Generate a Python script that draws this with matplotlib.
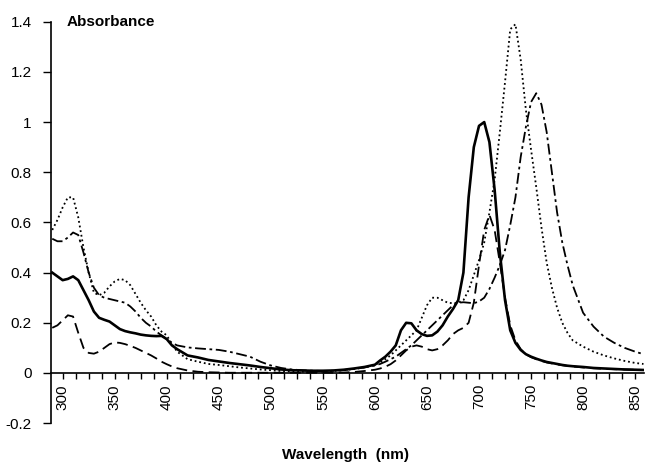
import numpy as np
import matplotlib
matplotlib.use("Agg")
import matplotlib.pyplot as plt
from matplotlib.ticker import MultipleLocator, FuncFormatter

plt.rcParams['font.family'] = ['Liberation Sans', 'DejaVu Sans']
plt.rcParams['font.size'] = 11

# wavelength grid (nm)
wavelength = [290, 295, 300, 305, 310, 315, 320, 325, 330, 335, 340, 345, 350, 355,
              360, 365, 370, 375, 380, 385, 390, 395, 400, 405, 410,
              420, 430, 440, 450, 460, 470, 480, 490, 500, 510, 520, 530, 540,
              550, 560, 570, 580, 590, 600,
              605, 610, 615, 620, 625, 630, 635, 640, 645, 650, 655, 660, 665,
              670, 675, 680, 685, 690, 695, 700, 705, 710, 715, 720, 725, 730,
              735, 740, 745, 750, 755, 760, 765, 770, 775, 780, 785, 790,
              800, 810, 820, 830, 840, 850, 858]

# absorbance, solid curve
abs_solid = [0.40, 0.385, 0.37, 0.375, 0.385, 0.37, 0.33, 0.29, 0.245, 0.22, 0.212, 0.205, 0.19, 0.175,
             0.167, 0.162, 0.158, 0.153, 0.15, 0.148, 0.147, 0.148, 0.135, 0.11, 0.095,
             0.07, 0.062, 0.052, 0.046, 0.04, 0.035, 0.03, 0.024, 0.019, 0.014, 0.011, 0.01, 0.009,
             0.009, 0.01, 0.013, 0.018, 0.024, 0.033,
             0.05, 0.065, 0.085, 0.11, 0.17, 0.2, 0.198, 0.17, 0.155, 0.148, 0.15, 0.165, 0.19,
             0.225, 0.255, 0.29, 0.4, 0.7, 0.9, 0.985, 1.0, 0.92, 0.73, 0.48, 0.29, 0.17,
             0.12, 0.092, 0.075, 0.065, 0.057, 0.05, 0.044, 0.04, 0.036, 0.032, 0.029, 0.027,
             0.024, 0.02, 0.018, 0.016, 0.014, 0.013, 0.012]

# absorbance, dotted curve
abs_dotted = [0.57, 0.61, 0.66, 0.70, 0.70, 0.62, 0.50, 0.40, 0.32, 0.31, 0.32, 0.345, 0.365, 0.375,
              0.37, 0.35, 0.315, 0.28, 0.25, 0.225, 0.19, 0.165, 0.15, 0.115, 0.085,
              0.055, 0.045, 0.036, 0.032, 0.027, 0.022, 0.018, 0.014, 0.011, 0.008, 0.006, 0.005, 0.005,
              0.006, 0.008, 0.011, 0.016, 0.023, 0.033,
              0.042, 0.055, 0.07, 0.09, 0.11, 0.13, 0.15, 0.17, 0.22, 0.27, 0.30, 0.30, 0.29,
              0.28, 0.278, 0.28, 0.29, 0.33, 0.39, 0.45, 0.52, 0.64, 0.77, 0.96, 1.16, 1.37,
              1.39, 1.25, 1.05, 0.89, 0.74, 0.58, 0.44, 0.34, 0.26, 0.20, 0.16, 0.13,
              0.105, 0.085, 0.07, 0.058, 0.048, 0.04, 0.036]

# absorbance, dash-dot curve
abs_dashdot = [0.535, 0.525, 0.525, 0.54, 0.56, 0.55, 0.48, 0.40, 0.34, 0.31, 0.30, 0.295, 0.29, 0.285,
               0.28, 0.265, 0.245, 0.22, 0.20, 0.185, 0.165, 0.15, 0.135, 0.12, 0.11,
               0.102, 0.098, 0.095, 0.092, 0.085, 0.075, 0.065, 0.045, 0.03, 0.02, 0.014, 0.011, 0.009,
               0.008, 0.009, 0.012, 0.016, 0.022, 0.03,
               0.036, 0.045, 0.055, 0.065, 0.08, 0.095, 0.11, 0.13, 0.15, 0.17, 0.19, 0.21, 0.23,
               0.25, 0.27, 0.28, 0.282, 0.28, 0.278, 0.285, 0.30, 0.335, 0.38, 0.43, 0.49, 0.59,
               0.70, 0.86, 0.98, 1.08, 1.115, 1.07, 0.96, 0.80, 0.64, 0.52, 0.43, 0.35,
               0.24, 0.185, 0.145, 0.12, 0.10, 0.085, 0.075]

# absorbance, dashed curve
abs_dashed = [0.18, 0.19, 0.21, 0.23, 0.225, 0.16, 0.10, 0.08, 0.077, 0.085, 0.10, 0.115, 0.122, 0.12,
              0.115, 0.108, 0.10, 0.09, 0.08, 0.07, 0.058, 0.045, 0.035, 0.026, 0.019,
              0.01, 0.005, 0.003, 0.002, 0.001, 0.001, 0.001, 0.001, 0.001, 0.001, 0.001, 0.001, 0.001,
              0.001, 0.001, 0.002, 0.004, 0.008, 0.013,
              0.018, 0.025, 0.035, 0.05, 0.07, 0.09, 0.105, 0.11, 0.105, 0.095, 0.09, 0.095, 0.11,
              0.13, 0.155, 0.17, 0.18, 0.20, 0.28, 0.43, 0.57, 0.63, 0.57, 0.44, 0.30, 0.19,
              0.13, 0.095, 0.075, 0.063, 0.055, 0.048, 0.042, 0.038, 0.034, 0.031, 0.028, 0.026,
              0.022, 0.019, 0.017, 0.015, 0.014, 0.013, 0.012]

fig = plt.figure(figsize=(6.5, 4.69), dpi=100)
ax = fig.add_axes([51 / 650, 0.0977, 593 / 650, 0.856])

ax.plot(wavelength, abs_dashed, color='black', lw=1.3, linestyle=(0, (6, 3)))
ax.plot(wavelength, abs_dashdot, color='black', lw=1.3, linestyle=(0, (6, 2, 1.5, 2)))
ax.plot(wavelength, abs_dotted, color='black', lw=1.3, linestyle=(0, (1, 1.6)))
ax.plot(wavelength, abs_solid, color='black', lw=1.9, linestyle='-')

ax.set_xlim(288.8, 858.5)
ax.set_ylim(-0.2, 1.4)

# axes like the original: x axis crossing at zero, no box
ax.spines['top'].set_visible(False)
ax.spines['right'].set_visible(False)
ax.spines['bottom'].set_position(('data', 0))
ax.spines['left'].set_linewidth(1.2)
ax.spines['bottom'].set_linewidth(1.2)

ax.xaxis.set_major_locator(MultipleLocator(50))
ax.xaxis.set_minor_locator(MultipleLocator(12.5))
ax.yaxis.set_major_locator(MultipleLocator(0.2))
ax.yaxis.set_major_formatter(FuncFormatter(lambda v, p: '%g' % round(v, 1)))
ax.tick_params(axis='x', which='both', direction='out', length=4, width=1, pad=4)
ax.tick_params(axis='y', direction='out', length=6, width=1, pad=8)
for lab in ax.get_xticklabels():
    lab.set_rotation(90)

ax.text(0.026, 1.0, 'Absorbance', transform=ax.transAxes, fontweight='bold',
        fontsize=11, ha='left', va='center')
fig.text(346 / 650, 1 - 455 / 469, 'Wavelength  (nm)', fontweight='bold',
         fontsize=11, ha='center', va='center')

fig.savefig('out.png', dpi=100)
